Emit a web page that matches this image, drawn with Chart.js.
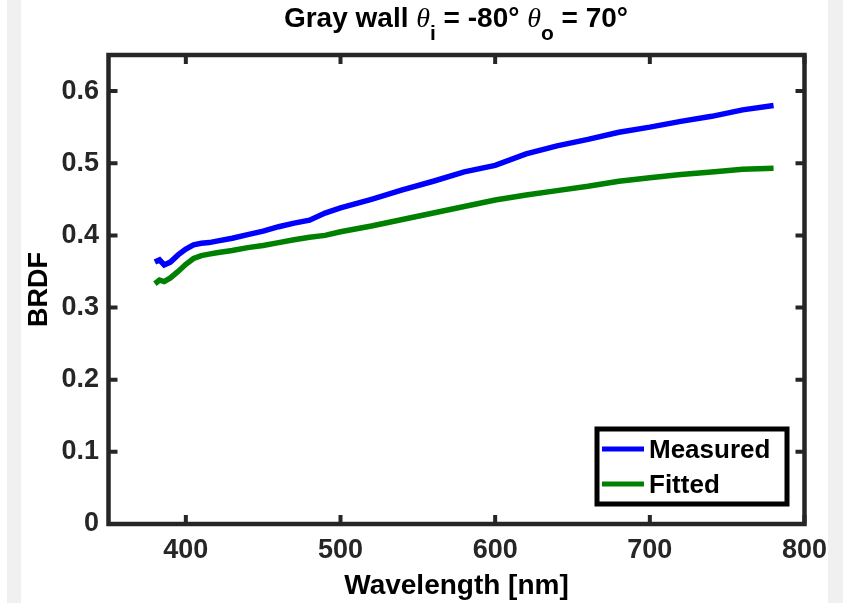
<!DOCTYPE html>
<html>
<head>
<meta charset="utf-8">
<script src="https://cdn.jsdelivr.net/npm/chart.js@4.4.1/dist/chart.umd.min.js"></script>
<style>
  html, body { margin: 0; padding: 0; background: #fff; }
  #wrap { position: relative; width: 843px; height: 603px; overflow: hidden; }
  .side { position: absolute; top: 0; height: 603px; background: #f0f0f0; }
  #title {
    position: absolute; left: 108px; width: 696px; top: 4px;
    text-align: center; font: bold 28px "Liberation Sans", Arial, sans-serif;
    line-height: 28px; color: #000; white-space: nowrap;
  }
  #title i { font-family: "Liberation Serif", "Times New Roman", serif; font-weight: normal; }
  #title sub { font-size: 21px; vertical-align: baseline; position: relative; top: 13px; line-height: 0; }
  canvas { position: absolute; left: 0; top: 0; }
</style>
</head>
<body>
<div id="wrap">
  <div class="side" style="left:7px;width:14px"></div>
  <div class="side" style="left:828px;width:15px"></div>
  <canvas id="chart" width="843" height="603"></canvas>
  <div id="title">Gray wall <i>θ</i><sub>i</sub> = -80° <i>θ</i><sub>o</sub> = 70°</div>
</div>
<script>
// datos
const wavelengths = [380, 383, 386, 390, 395, 400, 405, 410, 415, 420, 430, 440, 450, 460, 470, 480, 490,
                     500, 520, 540, 560, 580, 600, 620, 640, 660, 680, 700, 720, 740, 760, 780];
const measured = [0.363, 0.366, 0.359, 0.363, 0.373, 0.381, 0.387, 0.389, 0.390, 0.392, 0.396, 0.401, 0.406,
                  0.412, 0.417, 0.421, 0.431, 0.438, 0.450, 0.463, 0.475, 0.488, 0.497, 0.513, 0.524, 0.533,
                  0.543, 0.550, 0.558, 0.565, 0.574, 0.580];
const fitted = [0.333, 0.338, 0.336, 0.341, 0.350, 0.360, 0.368, 0.372, 0.374, 0.376, 0.379, 0.383, 0.386,
                0.390, 0.394, 0.3975, 0.400, 0.405, 0.413, 0.422, 0.431, 0.440, 0.449, 0.456, 0.462, 0.468,
                0.475, 0.480, 0.4845, 0.488, 0.4915, 0.493];
const xTicks = [400, 500, 600, 700, 800];
const yTicks = [0, 0.1, 0.2, 0.3, 0.4, 0.5, 0.6];

const AXIS = '#262626';
Chart.defaults.font.family = '"Liberation Sans", Arial, sans-serif';
Chart.defaults.font.weight = 'bold';
Chart.defaults.color = AXIS;

// caja de ejes + ticks hacia adentro (estilo matlab)
const boxPlugin = {
  id: 'box',
  afterDatasetsDraw(chart) {
    const { ctx, chartArea: a, scales: { x, y } } = chart;
    const len = 9;
    ctx.save();
    ctx.strokeStyle = AXIS;
    ctx.lineWidth = 4;
    ctx.beginPath();
    x.ticks.forEach(t => {
      const px = x.getPixelForValue(t.value);
      ctx.moveTo(px, a.bottom); ctx.lineTo(px, a.bottom - len);
      ctx.moveTo(px, a.top); ctx.lineTo(px, a.top + len);
    });
    y.ticks.forEach(t => {
      const py = y.getPixelForValue(t.value);
      ctx.moveTo(a.left, py); ctx.lineTo(a.left + len, py);
      ctx.moveTo(a.right, py); ctx.lineTo(a.right - len, py);
    });
    ctx.stroke();
    ctx.lineWidth = 4.5;
    ctx.strokeRect(a.left, a.top, a.right - a.left, a.bottom - a.top);
    ctx.restore();
  }
};

// leyenda dentro del area, abajo a la derecha
const legendBox = {
  id: 'legendBox',
  afterDraw(chart) {
    const { ctx } = chart;
    const bx = 597, by = 429, bw = 190, bh = 75;
    ctx.save();
    ctx.fillStyle = '#fff';
    ctx.fillRect(bx, by, bw, bh);
    ctx.lineWidth = 5;
    ctx.strokeStyle = '#000';
    ctx.strokeRect(bx, by, bw, bh);
    chart.data.datasets.forEach((ds, i) => {
      const ly = 449 + i * 35;
      ctx.strokeStyle = ds.borderColor;
      ctx.lineWidth = 5;
      ctx.beginPath();
      ctx.moveTo(602, ly); ctx.lineTo(644, ly);
      ctx.stroke();
      ctx.fillStyle = '#000';
      ctx.font = 'bold 26px "Liberation Sans", Arial, sans-serif';
      ctx.textBaseline = 'alphabetic';
      ctx.fillText(ds.label, 649, ly + 9);
    });
    ctx.restore();
  }
};

new Chart(document.getElementById('chart'), {
  type: 'line',
  data: {
    datasets: [
      { label: 'Measured', data: wavelengths.map((w, i) => ({ x: w, y: measured[i] })),
        borderColor: '#0000ff', borderWidth: 5.5, pointRadius: 0, tension: 0 },
      { label: 'Fitted', data: wavelengths.map((w, i) => ({ x: w, y: fitted[i] })),
        borderColor: '#008000', borderWidth: 5.5, pointRadius: 0, tension: 0 }
    ]
  },
  options: {
    responsive: false,
    animation: false,
    devicePixelRatio: 1,
    layout: { padding: { top: 55, right: 38.5, left: 0, bottom: 0 } },
    plugins: { legend: { display: false }, title: { display: false }, tooltip: { enabled: false } },
    scales: {
      x: {
        type: 'linear', min: 350, max: 800,
        afterBuildTicks: s => { s.ticks = xTicks.map(v => ({ value: v })); },
        afterFit: s => { s.height = 79; },
        grid: { display: false, drawTicks: false },
        border: { display: false },
        ticks: { font: { size: 27 }, padding: 10, maxRotation: 0 },
        title: { display: true, text: 'Wavelength [nm]', color: '#000',
                 font: { size: 28, weight: 'bold' }, padding: { top: 0, bottom: 0 } }
      },
      y: {
        min: 0, max: 0.65,
        afterBuildTicks: s => { s.ticks = yTicks.map(v => ({ value: v })); },
        afterFit: s => { s.width = 108.5; },
        grid: { display: false, drawTicks: false },
        border: { display: false },
        ticks: { font: { size: 27 }, padding: 9.5, callback: v => String(Math.round(v * 10) / 10) },
        title: { display: true, text: 'BRDF', color: '#000',
                 font: { size: 27, weight: 'bold' }, padding: { top: 23, bottom: 0 } }
      }
    }
  },
  plugins: [boxPlugin, legendBox]
});
</script>
</body>
</html>
